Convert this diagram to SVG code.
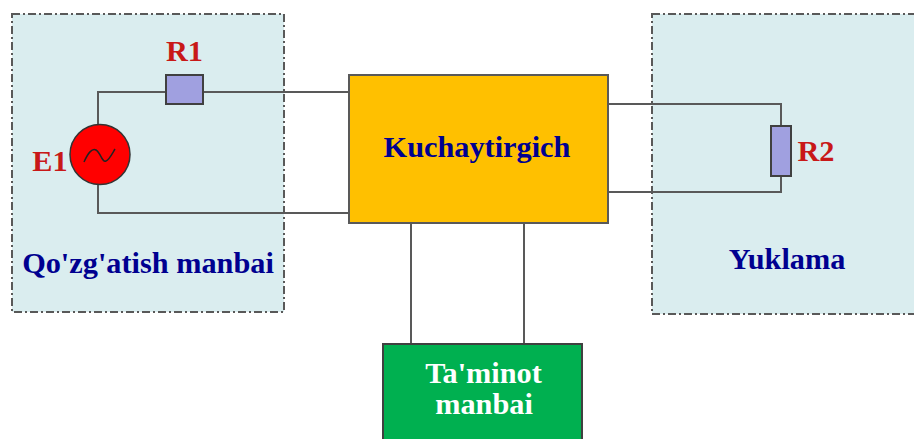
<svg xmlns="http://www.w3.org/2000/svg" width="914" height="439" viewBox="0 0 914 439">
<style>
.zone{fill:#daedef;stroke:#595959;stroke-width:2;stroke-dasharray:8 3 2 3}
.wire{fill:none;stroke:#595959;stroke-width:2}
.res{fill:#a0a0e0;stroke:#404040;stroke-width:2}
text{font-family:"Liberation Serif","Times New Roman",serif;font-weight:bold;font-size:30.3px}
.red{fill:#c81818}
.navy{fill:#000090}
.white{fill:#ffffff}
</style>
<rect width="914" height="439" fill="#ffffff"/>
<g id="zone-source"><rect class="zone" x="12" y="14" width="272" height="298"/></g>
<g id="zone-load"><rect class="zone" x="652" y="14" width="270" height="300"/></g>
<g id="connectors">
<path class="wire" d="M98 124V92H349"/>
<path class="wire" d="M98 184V213H349"/>
<path class="wire" d="M608 104H781V192H608"/>
<path class="wire" d="M411 223V344"/>
<path class="wire" d="M524 223V344"/>
</g>
<g id="E1">
<circle cx="100" cy="154.500" r="30" fill="#ff0000" stroke="#333333" stroke-width="1.500"/>
<path d="M84 162C88 153 92 148 96 150C101 153 102 163 106 161C109 160 112 154 115 149" fill="none" stroke="#222222" stroke-width="1.500"/>
<text class="red" x="50" y="171" text-anchor="middle">E1</text>
</g>
<g id="R1">
<rect class="res" x="166" y="75" width="37" height="29"/>
<text class="red" x="184.500" y="61" text-anchor="middle">R1</text>
</g>
<g id="R2">
<rect class="res" x="771" y="126" width="20" height="50"/>
<text class="red" x="816" y="161" text-anchor="middle">R2</text>
</g>
<g id="label-source"><text class="navy" x="148" y="273" text-anchor="middle">Qo'zg'atish manbai</text></g>
<g id="label-load"><text class="navy" x="787" y="269" text-anchor="middle">Yuklama</text></g>
<g id="amplifier">
<rect x="349" y="75" width="259" height="148" fill="#ffc000" stroke="#595959" stroke-width="2"/>
<text class="navy" x="477" y="157" text-anchor="middle">Kuchaytirgich</text>
</g>
<g id="supply">
<rect x="383" y="344" width="199" height="100" fill="#00b050" stroke="#404040" stroke-width="2"/>
<text class="white" x="483.500" y="383" text-anchor="middle">Ta'minot</text>
<text class="white" x="484" y="414" text-anchor="middle">manbai</text>
</g>
</svg>
